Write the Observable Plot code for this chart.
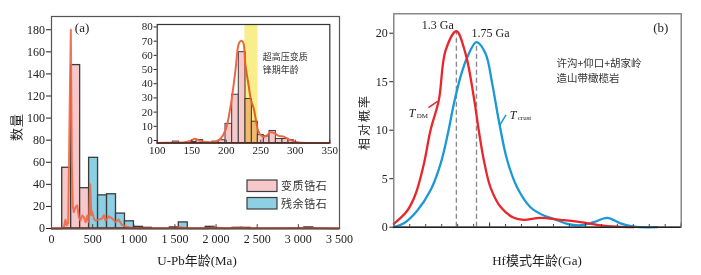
<!DOCTYPE html>
<html><head><meta charset="utf-8">
<script src="https://cdn.jsdelivr.net/npm/d3@7"></script>
<script src="https://cdn.jsdelivr.net/npm/@observablehq/plot@0.6"></script>
<style>
body{margin:0;background:#fff;}
#wrap{position:relative;width:701px;height:275px;overflow:hidden;background:#fff;}
#wrap svg{position:absolute;overflow:visible;}
</style></head><body><div id="wrap"></div>
<script>
// ---------------- DATA ----------------
// Panel (a) main histogram (U-Pb age, Ma)
const metaBinStart = [130, 239, 348];
const metaBinEnd   = [239, 348, 457];
const metaCount    = [55, 148, 36.5];
const inhBinStart  = [457, 566, 675, 784, 893, 1002, 1111, 1438, 1547, 1874, 2201, 2310, 3073];
const inhBinEnd    = [566, 675, 784, 893, 1002, 1111, 1220, 1547, 1656, 1983, 2310, 2419, 3182];
const inhCount     = [64, 30, 31, 13.5, 6.5, 1.5, 0.6, 1, 5.5, 1.5, 0.6, 0.6, 1];
// probability curve of panel (a)
const curveAx = [0, 120, 150, 170, 185, 203, 219, 235, 247, 259, 271, 292, 312, 333, 353, 374, 394, 415, 435, 455, 470, 484, 495, 515, 535, 575, 616, 636, 656, 697, 738, 778, 818, 859, 920, 980, 1060, 1300, 1500, 1560, 1650, 1900, 1980, 2100, 2300, 2400, 3100, 3500];
const curveAy = [0, 0, 1, 8, 3, 5, 100, 180, 60, 20, 14.8, 19.3, 21, 10.2, 7.2, 11.8, 10.2, 5.7, 11.8, 5.7, 40, 12, 15, 9, 7, 8, 9, 12, 7, 11, 9, 6, 8, 3, 1.5, 0.5, 0.2, 0.2, 0.4, 1.2, 0.3, 0.2, 1, 0.2, 0.6, 0.2, 0.4, 0];
const xTicksA = [0, 500, 1000, 1500, 2000, 2500, 3000, 3500];
const yTicksA = [0, 20, 40, 60, 80, 100, 120, 140, 160, 180];

// Inset histogram (Ma)
const insetBinStart = [122.6, 148, 157, 180, 189.3, 198.9, 208.6, 218.2, 227.9, 237.1, 245.8, 254.5, 262.7, 271.9, 281.5, 290.2];
const insetBinEnd   = [131.8, 157, 166.6, 189.3, 198.9, 208.6, 218.2, 227.9, 237.1, 245.8, 254.5, 262.7, 271.9, 281.5, 290.2, 297.9];
const insetCount    = [1, 0.7, 2, 1, 2, 13.5, 34, 64, 31, 15, 5.6, 4.7, 8.5, 2.8, 2.8, 2];
const insetCurveX = [100, 119, 140, 148, 155, 162, 177, 185, 191.6, 198.9, 206, 213.3, 218.2, 221.5, 224.4, 227.8, 232.6, 236, 240, 243, 246, 250, 256.7, 264, 269.8, 276, 283.3, 292.9, 302.6, 320, 350];
const insetCurveY = [0, 0.2, 0.5, 1.5, 3, 1.5, 0.5, 1, 3, 9, 25, 51, 70, 72, 71, 55, 40, 30, 24, 16, 9, 5.5, 4.5, 7.5, 7, 5, 4.5, 2, 0.5, 0, 0];
const uhpBand = [227, 246];
const xTicksInset = [100, 150, 200, 250, 300, 350];
const yTicksInset = [0, 10, 20, 30, 40, 50, 60, 70, 80];

// Panel (b) Hf model ages (Ga)
const tdmX = [0, 0.21, 0.34, 0.47, 0.575, 0.705, 0.81, 0.98, 1.123, 1.253, 1.33, 1.41, 1.514, 1.67, 1.88, 2.035, 2.297, 2.61, 2.92, 3.235, 3.5, 3.76];
const tdmY = [0.35, 1.7, 3.4, 6.5, 10, 13.1, 18.2, 20.2, 17.9, 13.4, 10, 6.9, 4.1, 2.1, 0.97, 0.76, 0.97, 0.76, 0.52, 0.18, 0.05, 0];
const crustX = [0, 0.157, 0.366, 0.575, 0.731, 0.845, 0.94, 1.044, 1.149, 1.295, 1.436, 1.541, 1.644, 1.776, 1.932, 2.14, 2.349, 2.505, 2.715, 2.923, 3.131, 3.341, 3.549, 3.758, 4.124];
const crustY = [0, 0.4, 1.7, 3.8, 6.5, 9.6, 12.7, 15.5, 17.5, 19.07, 17.9, 14.8, 11, 6.9, 4.1, 2.06, 1.2, 0.86, 0.35, 0.2, 0.52, 0.97, 0.4, 0.05, 0];
const peakX = [0.98, 1.295];
const peakY = [20.2, 19.07];
const peakLabels = ["1.3 Ga", "1.75 Ga"];
const yTicksB = [0, 5, 10, 15, 20];
const minorTicksB = d3.range(0, 4.501, 0.25);
const majorTicksB = [0, 1.5, 3, 4.5];

// ---------------- BUILD ----------------
const wrap = document.getElementById("wrap");
const SERIF = "'Liberation Serif', 'Noto Sans CJK SC', serif";
const CJK = "'Noto Sans CJK SC', sans-serif";
function place(svg, left, top) {
  svg.style.left = left + "px"; svg.style.top = top + "px";
  wrap.appendChild(svg);
}
const fmtA = d => d3.format(",")(d).replace(/,/g, " ");

const metaBins = metaCount.map((c, i) => ({x1: metaBinStart[i], x2: metaBinEnd[i], y: c}));
const inhBins = inhCount.map((c, i) => ({x1: inhBinStart[i], x2: inhBinEnd[i], y: c}));
const curveA = curveAx.map((x, i) => ({x, y: curveAy[i]}));

const plotA = Plot.plot({
  width: 350, height: 275,
  marginLeft: 51, marginRight: 11, marginTop: 16, marginBottom: 47,
  x: {domain: [0, 3500]},
  y: {domain: [0, 192]},
  style: {fontFamily: SERIF, fontSize: "12px", color: "#222", background: "transparent"},
  marks: [
    Plot.rectY(metaBins, {x1: "x1", x2: "x2", y: "y", fill: "#f6c8ca", stroke: "#3c3c3c", strokeWidth: 1.3}),
    Plot.rectY(inhBins, {x1: "x1", x2: "x2", y: "y", fill: "#8dcfe3", stroke: "#3c3c3c", strokeWidth: 1.3}),
    Plot.line(curveA, {x: "x", y: "y", stroke: "#ef6645", strokeWidth: 2, strokeOpacity: 0.9}),
    Plot.ruleY([0], {stroke: "#86291b", strokeWidth: 2}),
    Plot.ruleX(xTicksA, {x: d => d, y1: 0, y2: 3.5, stroke: "#444"}),
    Plot.axisY({ticks: yTicksA, tickSize: 5, tickPadding: 1.5, label: null, fontSize: 12}),
    Plot.axisX({ticks: xTicksA, tickSize: 0, tickPadding: 6, tickFormat: fmtA, label: null, fontSize: 12}),
    Plot.frame({stroke: "#555", strokeWidth: 1.2}),
    Plot.text([{x: 371, y: 182, t: "(a)"}], {x: "x", y: "y", text: "t", fontSize: 13, fill: "#222"})
  ]
});
place(plotA, 0, 0);

const insetBins = insetCount.map((c, i) => ({x1: insetBinStart[i], x2: insetBinEnd[i], y: c}));
const insetCurve = insetCurveX.map((x, i) => ({x, y: insetCurveY[i]}));
const plotInset = Plot.plot({
  width: 200, height: 150,
  marginLeft: 16.7, marginRight: 10.7, marginTop: 10, marginBottom: 21.5,
  x: {domain: [100, 350]},
  y: {domain: [0, 83.5]},
  style: {fontFamily: SERIF, fontSize: "11px", color: "#222", background: "transparent"},
  marks: [
    Plot.frame({fill: "#fff", stroke: "none"}),
    Plot.rectY(insetBins, {x1: "x1", x2: "x2", y: "y", fill: "#f6c8ca", stroke: "#3c3c3c", strokeWidth: 1}),
    Plot.line(insetCurve, {x: "x", y: "y", stroke: "#ef6645", strokeWidth: 2, curve: "catmull-rom"}),
    Plot.rect([{x1: uhpBand[0], x2: uhpBand[1]}], {x1: "x1", x2: "x2", fill: "#f8ee8c", mixBlendMode: "multiply"}),
    Plot.ruleY([0], {stroke: "#86291b", strokeWidth: 1.3}),
    Plot.axisY({ticks: yTicksInset, tickSize: 3, tickPadding: 1.5, label: null, fontSize: 11, dy: -2.5}),
    Plot.axisX({ticks: xTicksInset, tickSize: 0, tickPadding: 3.5, label: null, fontSize: 11}),
    Plot.ruleX(xTicksInset, {x: d => d, y1: 0, y2: 2, stroke: "#444"}),
    Plot.frame({stroke: "#333", strokeWidth: 1.2}),
    Plot.text([{x: 253, y: 56.7, t: "超高压变质\n锋期年龄"}],
      {x: "x", y: "y", text: "t", textAnchor: "start", lineHeight: 1.4, fontFamily: CJK, fontSize: 9, fill: "#333", style: "letter-spacing:1px"})
  ]
});
place(plotInset, 140, 14);

const tdm = tdmX.map((x, i) => ({x, y: tdmY[i]}));
const crust = crustX.map((x, i) => ({x, y: crustY[i]}));
const peaks = peakX.map((x, i) => ({x, y: peakY[i]}));
const plotB = Plot.plot({
  width: 346, height: 275,
  marginLeft: 38.3, marginRight: 20.3, marginTop: 13.3, marginBottom: 48.3,
  x: {domain: [0, 4.5], axis: null},
  y: {domain: [0, 22]},
  style: {fontFamily: SERIF, fontSize: "12px", color: "#222", background: "transparent"},
  marks: [
    Plot.ruleX(peaks, {x: "x", y1: 0, y2: "y", stroke: "#8a8a8a", strokeWidth: 1.4, strokeDasharray: "5,3"}),
    Plot.line(crust, {x: "x", y: "y", stroke: "#1b98d6", strokeWidth: 2.3, curve: "catmull-rom"}),
    Plot.line(tdm, {x: "x", y: "y", stroke: "#e8262b", strokeWidth: 2.3, curve: "catmull-rom"}),
    Plot.ruleX(minorTicksB, {x: d => d, y1: 0, y2: 0.28, stroke: "#444"}),
    Plot.ruleX(majorTicksB, {x: d => d, y1: 0, y2: 0.45, stroke: "#444"}),
    Plot.axisY({ticks: yTicksB, tickSize: 4, tickPadding: 2, label: null, fontSize: 12}),
    Plot.frame({stroke: "#777", strokeWidth: 1.3}),
    Plot.ruleY([0], {stroke: "#222", strokeWidth: 1.5}),
    Plot.text(peaks.map((p, i) => ({x: [0.69, 1.514][i], y: [20.8, 19.97][i], t: peakLabels[i]})),
      {x: "x", y: "y", text: "t", fontSize: 12, fill: "#222"}),
    Plot.text([{x: 4.18, y: 20.6, t: "(b)"}], {x: "x", y: "y", text: "t", fontSize: 13, fill: "#222"}),
    Plot.text([{x: 2.546, y: 16.23, t: "许沟+仰口+胡家岭\n造山带橄榄岩"}],
      {x: "x", y: "y", text: "t", textAnchor: "start", lineHeight: 1.38, fontFamily: CJK, fontSize: 10.5, fill: "#333", style: "letter-spacing:1.2px"}),
    // T_DM label + leader
    Plot.link([{x1: 0.543, y1: 12.34, x2: 0.684, y2: 12.96}], {x1: "x1", y1: "y1", x2: "x2", y2: "y2", stroke: "#e8262b", strokeWidth: 1.5}),
    Plot.text([{x: 0.285, y: 11.72, t: "T"}], {x: "x", y: "y", text: "t", fontSize: 12, fontStyle: "italic", fill: "#222"}),
    Plot.text([{x: 0.36, y: 11.45, t: "DM"}], {x: "x", y: "y", text: "t", textAnchor: "start", fontSize: 7, fill: "#222"}),
    // T_crust label + leader
    Plot.link([{x1: 1.655, y1: 10.48, x2: 1.757, y2: 11.57}], {x1: "x1", y1: "y1", x2: "x2", y2: "y2", stroke: "#1b98d6", strokeWidth: 1.5}),
    Plot.text([{x: 1.866, y: 11.57, t: "T"}], {x: "x", y: "y", text: "t", fontSize: 12, fontStyle: "italic", fill: "#222"}),
    Plot.text([{x: 1.94, y: 11.3, t: "crust"}], {x: "x", y: "y", text: "t", textAnchor: "start", fontSize: 7, fill: "#222"})
  ]
});
place(plotB, 355, 0);

// ---- overlay: axis titles and legend ----
const ov = d3.select(wrap).append("svg")
  .attr("width", 701).attr("height", 275)
  .style("left", "0px").style("top", "0px");
ov.append("text").attr("transform", "translate(20.5,127) rotate(-90)")
  .attr("text-anchor", "middle").attr("font-family", CJK).attr("font-size", 13)
  .attr("letter-spacing", 1).attr("fill", "#222").text("数量");
ov.append("text").attr("x", 197).attr("y", 264.5).attr("text-anchor", "middle")
  .attr("font-family", SERIF).attr("font-size", 13).attr("fill", "#222").text("U-Pb年龄(Ma)");
ov.append("text").attr("transform", "translate(369,122) rotate(-90)")
  .attr("text-anchor", "middle").attr("font-family", CJK).attr("font-size", 12)
  .attr("letter-spacing", 2).attr("fill", "#222").text("相对概率");
ov.append("text").attr("x", 537).attr("y", 264.5).attr("text-anchor", "middle")
  .attr("font-family", SERIF).attr("font-size", 13).attr("fill", "#222").text("Hf模式年龄(Ga)");
const legendItems = [{name: "变质锆石", fill: "#f6c8ca"}, {name: "残余锆石", fill: "#8dcfe3"}];
legendItems.forEach((d, i) => {
  const y = 180 + i * 17.5;
  ov.append("rect").attr("x", 247).attr("y", y).attr("width", 30).attr("height", 11.5)
    .attr("fill", d.fill).attr("stroke", "#3c3c3c").attr("stroke-width", 1.2);
  ov.append("text").attr("x", 281).attr("y", y + 10).attr("font-family", CJK)
    .attr("font-size", 11).attr("letter-spacing", 0.6).attr("fill", "#333").text(d.name);
});
</script>
</body></html>
